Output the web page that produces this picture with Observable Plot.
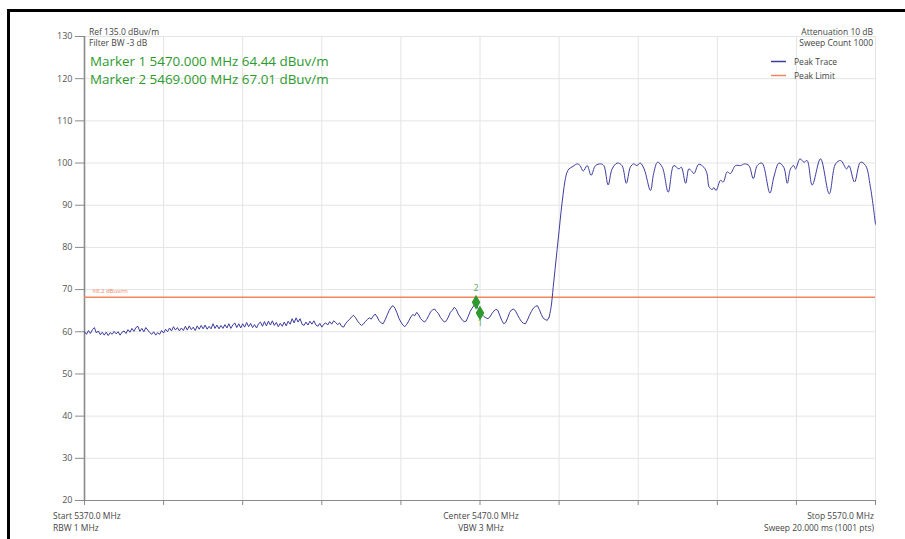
<!DOCTYPE html>
<html><head><meta charset="utf-8">
<script src="https://cdn.jsdelivr.net/npm/d3@7"></script>
<script src="https://cdn.jsdelivr.net/npm/@observablehq/plot@0.6"></script>
<style>
html,body{margin:0;padding:0;background:#fff;}
#chart{width:905px;height:539px;overflow:hidden;}
</style></head><body><div id="chart"></div>
<script>
// ---- data ----
const xTicks = [5370,5390,5410,5430,5450,5470,5490,5510,5530,5550,5570];
const yTicks = [20,30,40,50,60,70,80,90,100,110,120,130];
const limitLevel = 68.2;
const limitLabel = "68.2 dBuv/m";
const markerFreq = [5470, 5469];
const markerLevel = [64.44, 67.01];
const markerName = ["1", "2"];
const markerText = ["Marker 1 5470.000 MHz 64.44 dBuv/m", "Marker 2 5469.000 MHz 67.01 dBuv/m"];
const headerLeft = ["Ref 135.0 dBuv/m", "Filter BW -3 dB"];
const headerRight = ["Attenuation 10 dB", "Sweep Count 1000"];
const legendNames = ["Peak Trace", "Peak Limit"];
const footerStart = ["Start 5370.0 MHz", "RBW 1 MHz"];
const footerCenter = ["Center 5470.0 MHz", "VBW 3 MHz"];
const footerStop = ["Stop 5570.0 MHz", "Sweep 20.000 ms (1001 pts)"];
const bandEdgeMHz = 5487.5; // where the noise floor ends and the signal rises

const traceFreqMHz = [
5370,5370.5,5371,5371.5,5372,5372.5,5373,5373.5,5374,5374.5,
5375,5375.5,5376,5376.5,5377,5377.5,5378,5378.5,5379,5379.5,
5380,5380.5,5381,5381.5,5382,5382.5,5383,5383.5,5384,5384.5,
5385,5385.5,5386,5386.5,5387,5387.5,5388,5388.5,5389,5389.5,
5390,5390.5,5391,5391.5,5392,5392.5,5393,5393.5,5394,5394.5,
5395,5395.5,5396,5396.5,5397,5397.5,5398,5398.5,5399,5399.5,
5400,5400.5,5401,5401.5,5402,5402.5,5403,5403.5,5404,5404.5,
5405,5405.5,5406,5406.5,5407,5407.5,5408,5408.5,5409,5409.5,
5410,5410.5,5411,5411.5,5412,5412.5,5413,5413.5,5414,5414.5,
5415,5415.5,5416,5416.5,5417,5417.5,5418,5418.5,5419,5419.5,
5420,5420.5,5421,5421.5,5422,5422.5,5423,5423.5,5424,5424.5,
5425,5425.5,5426,5426.5,5427,5427.5,5428,5428.5,5429,5429.5,
5430,5430.5,5431,5431.5,5432,5432.5,5433,5433.5,5434,5434.5,
5435,5435.5,5436,5436.5,5437,5437.5,5438,5438.5,5439,5439.5,
5440,5440.5,5441,5441.5,5442,5442.5,5443,5443.5,5444,5444.5,
5445,5445.5,5446,5446.5,5447,5447.5,5448,5448.5,5449,5449.5,
5450,5450.5,5451,5451.5,5452,5452.5,5453,5453.5,5454,5454.5,
5455,5455.5,5456,5456.5,5457,5457.5,5458,5458.5,5459,5459.5,
5460,5460.5,5461,5461.5,5462,5462.5,5463,5463.5,5464,5464.5,
5465,5465.5,5466,5466.5,5467,5467.5,5468,5468.5,5469,5469.5,
5470,5470.5,5471,5471.5,5472,5472.5,5473,5473.5,5474,5474.5,
5475,5475.5,5476,5476.5,5477,5477.5,5478,5478.5,5479,5479.5,
5480,5480.5,5481,5481.5,5482,5482.5,5483,5483.5,5484,5484.5,
5485,5485.5,5486,5486.5,5487,5487.5,5488,5488.5,5489,5489.5,
5490,5490.5,5491,5491.5,5492,5492.5,
5493.5,5494.6,5495.3,5496.1,5497.1,5498.1,5499.2,5500.5,5501.3,5502.4,
5503.4,5504.7,5505.9,5507.0,5508.0,5508.8,5509.7,5510.5,5511.5,5513.1,
5513.9,5514.9,5516.1,5517.6,5519.0,5520.3,5520.9,5522.0,5522.8,5523.4,
5524.1,5525.3,5526.6,5527.4,5527.9,5528.7,5529.1,5529.7,5530.8,5531.5,
5532.5,5533.3,5534.6,5535.9,5536.9,5538.0,5539.1,5540.1,5541.3,5543.3,
5544.3,5545.6,5546.8,5547.7,5548.5,5549.3,5549.8,5550.9,5551.9,5552.7,
5554.0,5556.1,5558.3,5559.9,5561.2,5562.7,5563.3,5564.7,5566.2,5567.5,
5568.7,5570.0
];
const traceLevel = [
60.0,59.4,60.3,59.6,60.5,61.0,59.7,60.2,59.3,59.9,
59.2,59.9,59.1,59.8,59.4,60.1,59.5,60.0,59.2,59.9,
60.2,59.6,60.5,59.9,60.8,60.1,61.0,61.3,60.1,60.8,
60.0,61.0,60.4,59.8,59.4,60.0,59.2,59.8,59.4,60.3,
59.7,60.6,60.0,60.9,60.2,61.2,60.4,61.0,60.2,60.9,
60.3,61.3,60.4,61.4,60.5,61.1,60.3,61.4,60.6,61.5,
60.7,61.6,60.6,61.3,60.7,61.9,60.8,61.6,60.7,61.5,
60.8,61.7,60.9,61.9,60.8,61.6,62.1,61.0,61.9,60.9,
61.9,61.1,62.2,61.2,62.0,61.0,61.7,60.9,61.9,62.3,
61.3,62.4,61.4,62.5,61.6,62.6,61.5,62.2,61.2,62.0,
61.3,62.3,61.4,62.5,61.8,63.1,62.1,63.3,62.3,63.1,
61.8,61.5,62.3,61.6,62.5,61.8,62.6,61.6,61.3,62.0,
61.1,61.8,62.1,61.6,62.4,61.8,62.6,62.2,61.7,62.1,
61.3,61.1,61.9,62.5,62.9,63.5,63.9,63.4,62.6,62.0,
61.5,61.8,62.4,62.9,63.3,63.0,63.7,64.2,63.5,62.6,
62.1,61.9,62.8,63.9,65.0,65.8,66.2,65.6,64.5,63.2,
62.3,61.6,61.2,61.8,62.6,63.5,64.1,63.8,64.6,64.0,
63.1,62.6,62.3,62.9,63.8,64.7,65.2,65.4,64.8,64.3,
63.4,62.8,62.3,62.6,63.5,64.6,65.1,65.8,65.3,64.2,
63.5,62.8,62.4,62.5,63.6,64.8,65.6,66.3,67.0,65.5,
64.4,64.1,63.6,63.3,63.1,63.5,64.3,64.9,65.3,65.1,
63.9,62.7,61.9,62.2,63.3,64.6,65.2,65.4,64.9,64.0,
63.1,62.4,62.0,61.9,62.8,63.9,64.8,65.6,66.0,66.2,
65.3,64.1,63.2,62.9,62.7,63.5,66.0,70.5,75.0,79.5,
84.0,88.5,92.5,95.8,97.8,98.6,
99.2,99.8,99.4,98.1,99.4,97.1,99.4,99.8,99.4,94.8,
98.6,100.0,99.4,95.2,99.0,99.8,99.4,100.0,98.6,93.5,
97.5,100.2,99.0,93.1,99.4,98.6,99.0,95.2,98.6,98.2,
97.5,99.7,99.0,97.5,94.4,93.7,94.2,93.5,95.9,95.5,
97.9,97.5,99.4,99.4,99.8,99.4,96.3,99.4,100.0,92.9,
96.7,100.0,99.0,95.2,98.6,99.4,98.6,101.0,100.2,100.6,
94.8,101.0,92.7,99.8,100.6,98.6,99.4,95.5,100.2,99.4,
94.4,85.5
];

// ---- tables built from the arrays ----
const trace = traceFreqMHz.map((f, i) => ({f, v: traceLevel[i]}));
const markers = markerFreq.map((f, i) => ({f, v: markerLevel[i], name: markerName[i]}));

const FONT = "'Open Sans', 'Noto Sans', sans-serif";
const TRACE = "#3c3c9e";
const LIMIT = "#f2875e";
const GREEN = "#2e9a2e";

const svg = Plot.plot({
  width: 905, height: 539,
  marginLeft: 84, marginRight: 30, marginTop: 36, marginBottom: 39,
  style: {fontFamily: FONT, fontSize: "9px", color: "#555", background: "#fff"},
  x: {domain: [5370, 5570]},
  y: {domain: [20, 130]},
  marks: [
    Plot.gridX(xTicks, {stroke: "#e4e4e4", strokeOpacity: 1}),
    Plot.gridY(yTicks, {stroke: "#e4e4e4", strokeOpacity: 1}),
    Plot.axisX(xTicks, {tickSize: 5, tickFormat: () => "", stroke: "#8a8a8a", label: null}),
    Plot.axisY(yTicks, {tickSize: 9, tickPadding: 3, stroke: "#8a8a8a", label: null, fill: "#555"}),
    Plot.ruleX([5370], {stroke: "#8a8a8a", strokeWidth: 1.6}),
    Plot.ruleY([20], {stroke: "#8a8a8a", strokeWidth: 1.2}),
    Plot.ruleY([limitLevel], {stroke: LIMIT, strokeWidth: 1.4}),
    Plot.text([limitLabel], {x: () => 5370, y: () => limitLevel, text: d => d, dx: 8, dy: -6, textAnchor: "start", fill: LIMIT, fontSize: 6}),
    Plot.line(trace.filter(d => d.f <= bandEdgeMHz), {x: "f", y: "v", stroke: TRACE, strokeWidth: 1, curve: "linear"}),
    Plot.line(trace.filter(d => d.f >= bandEdgeMHz), {x: "f", y: "v", stroke: TRACE, strokeWidth: 1, curve: "catmull-rom"}),
    Plot.dot(markers, {x: "f", y: "v", symbol: "diamond", r: 3.6, fill: GREEN, stroke: GREEN}),
    Plot.text(markers.filter(d => d.name === "2"), {x: "f", y: "v", text: "name", dy: -14, fill: "#5aa85a", fontSize: 9}),
    Plot.text(markers.filter(d => d.name === "1"), {x: "f", y: "v", text: "name", dy: 10, fill: "#5aa85a", fontSize: 9})
  ]
});
document.getElementById("chart").appendChild(svg);

const s = d3.select(svg);
// outer frame (left and top edges)
s.append("path").attr("d", "M8.5,539 V10.5 H905").attr("fill", "none").attr("stroke", "#000").attr("stroke-width", 3);

function txt(x, y, t, opts = {}) {
  s.append("text").attr("x", x).attr("y", y).text(t)
    .attr("font-family", FONT).attr("font-size", opts.size || 8.5)
    .attr("fill", opts.fill || "#444")
    .attr("text-anchor", opts.anchor || "start");
}
txt(89, 34.5, headerLeft[0]);
txt(89, 45.5, headerLeft[1]);
txt(90, 66, markerText[0], {size: 13.4, fill: GREEN});
txt(90, 84, markerText[1], {size: 13.4, fill: GREEN});
txt(873, 34.5, headerRight[0], {anchor: "end"});
txt(873, 45.5, headerRight[1], {anchor: "end"});
// legend
s.append("line").attr("x1", 771).attr("x2", 786).attr("y1", 61.5).attr("y2", 61.5).attr("stroke", TRACE).attr("stroke-width", 1.5);
s.append("line").attr("x1", 771).attr("x2", 786).attr("y1", 75.5).attr("y2", 75.5).attr("stroke", LIMIT).attr("stroke-width", 1.5);
txt(794, 64.5, legendNames[0]);
txt(794, 78.5, legendNames[1]);
// footer
txt(53, 519, footerStart[0]);
txt(53, 530.5, footerStart[1]);
txt(481, 519, footerCenter[0], {anchor: "middle"});
txt(481, 530.5, footerCenter[1], {anchor: "middle"});
txt(874, 519, footerStop[0], {anchor: "end"});
txt(874, 530.5, footerStop[1], {anchor: "end"});
</script>
</body></html>
